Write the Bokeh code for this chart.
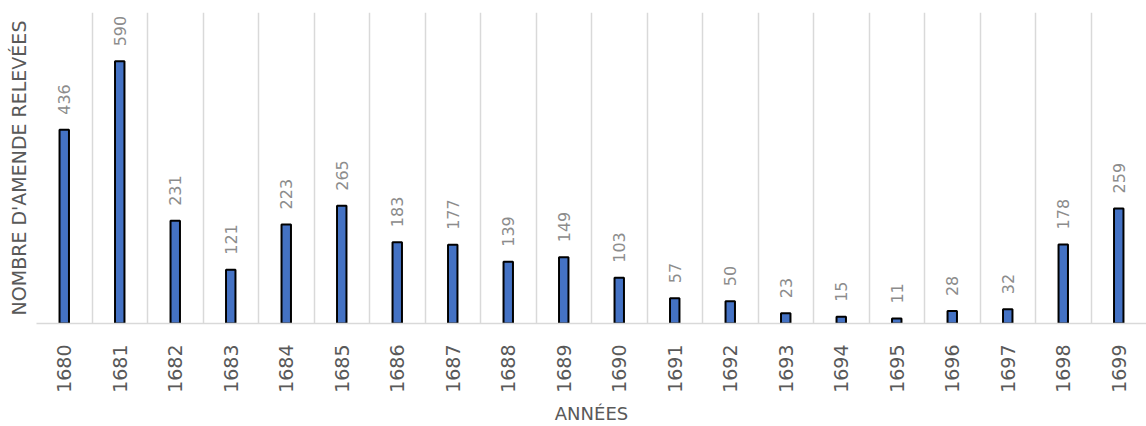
import math
from bokeh.plotting import figure
from bokeh.models import Range1d, FixedTicker, ColumnDataSource
from bokeh.core.properties import value
from bokeh.embed import file_html
from bokeh.resources import INLINE

years = ["1680", "1681", "1682", "1683", "1684", "1685", "1686", "1687", "1688", "1689",
         "1690", "1691", "1692", "1693", "1694", "1695", "1696", "1697", "1698", "1699"]
amendes = [436, 590, 231, 121, 223, 265, 183, 177, 139, 149,
           103, 57, 50, 23, 15, 11, 28, 32, 178, 259]
x_title = "ANNÉES"
y_title = "NOMBRE D'AMENDE RELEVÉES"

FONT = "DejaVu Sans"
idx = list(range(len(years)))
src = ColumnDataSource(dict(x=idx, top=amendes, lab=[str(v) for v in amendes]))

p = figure(width=1146, height=426, output_backend="svg", toolbar_location=None,
           x_range=Range1d(-0.5, len(years) - 0.5), y_range=Range1d(0, 700),
           min_border_left=36, min_border_right=0, min_border_top=12, min_border_bottom=103)
p.outline_line_color = None
p.background_fill_color = "white"
p.border_fill_color = "white"

p.vbar(x="x", top="top", width=0.17, source=src, fill_color="#4472C4",
       line_color="black", line_width=2)
p.text(x="x", y="top", text="lab", source=src, angle=math.pi / 2,
       text_align="left", text_baseline="middle", y_offset=-15,
       text_font=value(FONT), text_font_size="16px", text_color="#8c8c8c")

p.ygrid.visible = False
p.xgrid.ticker = FixedTicker(ticks=[i - 0.5 for i in range(len(years) + 1)])
p.xgrid.grid_line_color = "#d9d9d9"
p.xgrid.grid_line_width = 1.5

xa = p.xaxis[0]
xa.ticker = FixedTicker(ticks=idx)
xa.major_label_overrides = {i: y for i, y in enumerate(years)}
xa.major_label_orientation = math.pi / 2
xa.major_tick_out = 0
xa.major_tick_in = 0
xa.minor_tick_out = 0
xa.minor_tick_in = 0
xa.major_tick_line_color = None
xa.minor_tick_line_color = None
xa.axis_line_color = "#d9d9d9"
xa.axis_line_width = 1.5
xa.major_label_standoff = 21
xa.major_label_text_font = FONT
xa.major_label_text_font_size = "19px"
xa.major_label_text_color = "#595959"
xa.axis_label = x_title
xa.axis_label_standoff = 7
xa.axis_label_text_font = FONT
xa.axis_label_text_font_size = "18px"
xa.axis_label_text_font_style = "normal"
xa.axis_label_text_color = "#595959"

ya = p.yaxis[0]
ya.ticker = FixedTicker(ticks=[])
ya.major_tick_out = 0
ya.major_tick_in = 0
ya.minor_tick_out = 0
ya.minor_tick_in = 0
ya.major_tick_line_color = None
ya.minor_tick_line_color = None
ya.axis_line_color = None
ya.major_label_standoff = 0
ya.major_label_text_font_size = "0px"
ya.axis_label = y_title
ya.axis_label_standoff = 7
ya.axis_label_text_font = FONT
ya.axis_label_text_font_size = "19px"
ya.axis_label_text_font_style = "normal"
ya.axis_label_text_color = "#595959"

open("out.html", "w").write(file_html(p, INLINE))
